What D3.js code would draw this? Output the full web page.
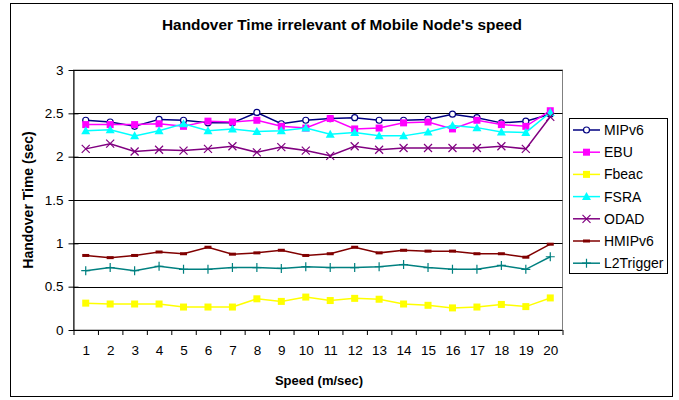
<!DOCTYPE html>
<html>
<head>
<meta charset="utf-8">
<script src="https://cdn.jsdelivr.net/npm/d3@7"></script>
<style>
  body { margin: 0; background: #fff; }
  svg { display: block; font-family: "Liberation Sans", Arial, sans-serif; }
</style>
</head>
<body>
<svg id="chart" width="679" height="400"></svg>
<script>
// speeds (m/sec)
var speeds = d3.range(1, 21);

var yTicks = [0, 0.5, 1, 1.5, 2, 2.5, 3];

var seriesNames = ["MIPv6", "EBU", "Fbeac", "FSRA", "ODAD", "HMIPv6", "L2Trigger"];

var mipv6 = [2.42, 2.40, 2.35, 2.43, 2.42, 2.39, 2.39, 2.51, 2.38, 2.42,
             2.44, 2.45, 2.42, 2.42, 2.43, 2.49, 2.45, 2.39, 2.41, 2.49];
var ebu = [2.37, 2.37, 2.37, 2.38, 2.35, 2.41, 2.40, 2.42, 2.35, 2.33,
           2.44, 2.32, 2.33, 2.39, 2.40, 2.32, 2.42, 2.37, 2.35, 2.53];
var fbeac = [0.31, 0.30, 0.30, 0.30, 0.265, 0.265, 0.265, 0.36, 0.33, 0.38,
             0.34, 0.365, 0.355, 0.30, 0.285, 0.255, 0.265, 0.295, 0.27, 0.37];
var fsra = [2.30, 2.31, 2.24, 2.30, 2.38, 2.30, 2.32, 2.29, 2.30, 2.33,
            2.26, 2.28, 2.24, 2.24, 2.285, 2.36, 2.335, 2.285, 2.28, 2.51];
var odad = [2.09, 2.15, 2.06, 2.08, 2.07, 2.09, 2.12, 2.05, 2.11, 2.07,
            2.01, 2.12, 2.08, 2.10, 2.10, 2.10, 2.10, 2.12, 2.09, 2.46];
var hmipv6 = [0.86, 0.835, 0.86, 0.90, 0.88, 0.955, 0.875, 0.89, 0.92, 0.86,
              0.88, 0.955, 0.89, 0.92, 0.91, 0.91, 0.88, 0.88, 0.84, 0.99];
var l2trigger = [0.685, 0.72, 0.685, 0.735, 0.70, 0.70, 0.72, 0.72, 0.71, 0.73,
                 0.72, 0.72, 0.73, 0.755, 0.72, 0.70, 0.70, 0.745, 0.70, 0.845];

var seriesValues = [mipv6, ebu, fbeac, fsra, odad, hmipv6, l2trigger];
var seriesColors = ["#000080", "#ff00ff", "#ffff00", "#00ffff", "#800080", "#800000", "#008080"];
var seriesMarkers = ["circle", "square", "square", "triangle", "cross", "dash", "plus"];

var svg = d3.select("#chart");

var margin = { top: 70, left: 73.5, right: 562.5, bottom: 330 };

var x = d3.scaleLinear().domain([0.5, 20.5]).range([margin.left, margin.right]);
var y = d3.scaleLinear().domain([0, 3]).range([margin.bottom, margin.top]);

// outer frame
svg.append("rect")
    .attr("x", 10.5).attr("y", 3.5)
    .attr("width", 662).attr("height", 393)
    .attr("fill", "#fff").attr("stroke", "#000").attr("stroke-width", 1);

// title
svg.append("text")
    .attr("x", 342).attr("y", 30)
    .attr("text-anchor", "middle")
    .style("font-size", "15.4px").style("font-weight", "bold")
    .text("Handover Time irrelevant of Mobile Node's speed");

// plot area border
svg.append("rect")
    .attr("x", margin.left).attr("y", margin.top)
    .attr("width", margin.right - margin.left)
    .attr("height", margin.bottom - margin.top)
    .attr("fill", "none").attr("stroke", "#808080");

// gridlines
svg.append("g")
    .selectAll("line")
    .data(yTicks.filter(function (d) { return d > 0; }))
    .enter()
    .append("line")
    .attr("x1", margin.left).attr("x2", margin.right)
    .attr("y1", function (d) { return Math.round(y(d)) + 0.5; })
    .attr("y2", function (d) { return Math.round(y(d)) + 0.5; })
    .attr("stroke", "#000");

// y axis
var yAxis = d3.axisLeft(y).tickValues(yTicks).tickSize(5).tickPadding(5)
    .tickFormat(d3.format("~g"));
var gy = svg.append("g")
    .attr("transform", "translate(" + margin.left + ",0)")
    .call(yAxis);
gy.selectAll(".tick line").attr("x1", 5);
gy.selectAll("text").style("font-size", "13.5px").attr("fill", "#000");
gy.select(".domain").attr("d", "M0.5," + margin.top + "V" + margin.bottom);

// x axis: tick marks at category boundaries, labels at centers
var xTickAxis = d3.axisBottom(x).tickValues(d3.range(0.5, 21, 1)).tickSize(5).tickFormat("");
var gx = svg.append("g")
    .attr("transform", "translate(0," + margin.bottom + ")")
    .call(xTickAxis);
gx.select(".domain").attr("d", "M" + margin.left + ",0.5H" + margin.right);

var xLabelAxis = d3.axisBottom(x).tickValues(speeds).tickSize(0).tickPadding(15);
var gxl = svg.append("g")
    .attr("transform", "translate(0," + margin.bottom + ")")
    .call(xLabelAxis);
gxl.select(".domain").remove();
gxl.selectAll("text").style("font-size", "13.5px").attr("fill", "#000");

// axis titles
svg.append("text")
    .attr("x", 319).attr("y", 385)
    .attr("text-anchor", "middle")
    .style("font-size", "13px").style("font-weight", "bold")
    .text("Speed (m/sec)");

svg.append("text")
    .attr("transform", "translate(33,200) rotate(-90)")
    .attr("text-anchor", "middle")
    .style("font-size", "14px").style("font-weight", "bold")
    .text("Handover Time (sec)");

function drawMarker(g, type, color, cx, cy) {
    if (type === "circle") {
        g.append("circle").attr("cx", cx).attr("cy", cy).attr("r", 3)
            .attr("fill", "#fff").attr("stroke", color).attr("stroke-width", 1.2);
    } else if (type === "square") {
        g.append("rect").attr("x", cx - 3.5).attr("y", cy - 3.5)
            .attr("width", 7).attr("height", 7).attr("fill", color);
    } else if (type === "triangle") {
        g.append("path")
            .attr("d", "M" + cx + "," + (cy - 4.5) + "L" + (cx + 4.5) + "," + (cy + 3.5) + "L" + (cx - 4.5) + "," + (cy + 3.5) + "Z")
            .attr("fill", color);
    } else if (type === "cross") {
        g.append("path")
            .attr("d", "M" + (cx - 4) + "," + (cy - 4) + "L" + (cx + 4) + "," + (cy + 4) +
                "M" + (cx - 4) + "," + (cy + 4) + "L" + (cx + 4) + "," + (cy - 4))
            .attr("stroke", color).attr("stroke-width", 1.2).attr("fill", "none");
    } else if (type === "dash") {
        g.append("rect").attr("x", cx - 3.5).attr("y", cy - 1.5)
            .attr("width", 7).attr("height", 3).attr("fill", color);
    } else if (type === "plus") {
        g.append("path")
            .attr("d", "M" + (cx - 4.5) + "," + cy + "L" + (cx + 4.5) + "," + cy +
                "M" + cx + "," + (cy - 4.5) + "L" + cx + "," + (cy + 4.5))
            .attr("stroke", color).attr("stroke-width", 1.2).attr("fill", "none");
    }
}

var line = d3.line()
    .x(function (d, i) { return x(speeds[i]); })
    .y(function (d) { return y(d); });

seriesValues.forEach(function (vals, s) {
    var g = svg.append("g").attr("class", "series");
    g.append("path")
        .datum(vals)
        .attr("d", line)
        .attr("fill", "none")
        .attr("stroke", seriesColors[s])
        .attr("stroke-width", 1.5);
    vals.forEach(function (v, i) {
        drawMarker(g, seriesMarkers[s], seriesColors[s], x(speeds[i]), y(v));
    });
});

// legend
var legend = svg.append("g");
legend.append("rect")
    .attr("x", 569.5).attr("y", 118.5)
    .attr("width", 98).attr("height", 155)
    .attr("fill", "#fff").attr("stroke", "#000");

seriesNames.forEach(function (name, s) {
    var ly = 130 + s * 22.2;
    legend.append("line")
        .attr("x1", 573).attr("x2", 600)
        .attr("y1", ly).attr("y2", ly)
        .attr("stroke", seriesColors[s]).attr("stroke-width", 1.5);
    drawMarker(legend, seriesMarkers[s], seriesColors[s], 586.5, ly);
    legend.append("text")
        .attr("x", 604).attr("y", ly + 5)
        .style("font-size", "14px")
        .text(name);
});
</script>
</body>
</html>
